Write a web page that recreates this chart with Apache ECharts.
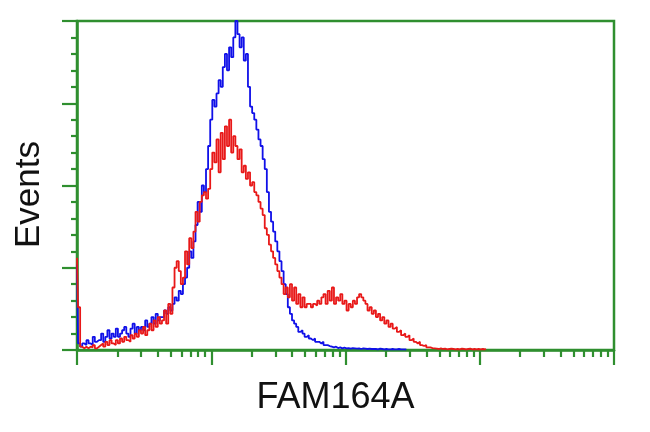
<!DOCTYPE html>
<html>
<head>
<meta charset="utf-8">
<script src="https://cdn.jsdelivr.net/npm/echarts@6/dist/echarts.min.js"></script>
<style>html,body{margin:0;padding:0;background:#fff}#c{width:650px;height:432px}</style>
</head>
<body>
<div id="c"></div>
<script>
// Channel positions on a 4-decade log scale (256 channels, 64 per decade)
const xLabel = 'FAM164A';
const yLabel = 'Events';
const blueValues = [
  26,2,1,2,1.5,3,2,1.5,4,2.5,3,
  3,5,2.5,4,6,3.5,5,4,6.5,4,
  5,6,7,5,4,6.5,8,5,7,6,
  7,6,9,7,8,10,8,11,9,10,
  10,12,11,13,12,14,16,15,18,17,20,
  22,25,30,28,33,
  38,45,42,50,48,
  55,62,70,76,74,78,82,80,86,90,85,92,89,95,100,96,92,95,88,90,80,74,72,70,67,64,62,58,
  55,48,42,39,36,33,30,27,24,20,17,13,11,9,8,7,5.5,6,5,4,4.5,3.5,3,3.5,2.5,2.5,2,2.5,1.5,1.5,1.2,1,
  0.8,1,0.6,0.8,0.5,0.7,0.5,0.6,0.4,0.6,0.5,0.4,0.5,0.3,0.5,0.4,0.3,0.4,0.3,0.3,
  0.3,0.2,0.4,0.3,0.2,0.3,0.2,0.2,0.3,0.2,
  0.2,0.3,0.2,0.2,0.2,0.1
];
const redValues = [
  28,13,1,0.5,1,0.5,1,0.8,1.5,0.5,1,
  1.5,2,1,2.5,1.5,3,2,1.5,3,2,
  3.5,2.5,4,3,2.5,4.5,3.5,5,4,6,
  5,7,4.5,6,8,6,9,7,10,8,
  9,12,8,14,11,19,25,27,24,20,
  22,30,26,34,31,
  36,42,39,45,47,
  48,46,49,55,60,57,64,54,66,58,68,62,70,60,65,62,58,61,54,56,52,54,50,51,48,47,
  45,43,41,37,35,32,30,28,26,24,22,20,17,19,16,20,15,19,14,17,13,16,13,14,
  14,13,14,13.5,15,14,16,17,14,18,15,19,14,16,15,17,14,15,12,14,13,15,14,16,17,16,15,14,12,13,11,12,10,11,9,10,8,9,7,8,6.5,7,5.5,6,4.5,5,4,4.5,3,3.5,2.5,2,2.5,1.5,1.2,1.5,0.8,0.8,0.6,0.5,
  0.4,0.3,0.5,0.3,0.4,0.2,0.3,0.4,0.3,0.2,0.3,0.2,0.4,0.3,0.2,0.3,0.4,0.2,0.3,0.2,0.3,0.2,0.3,0.2,0.3
];
const decadeMajors = [0, 64, 128, 192, 256];
const minorMultipliers = [2, 3, 4, 5, 6, 7, 8, 9];

const minorTicks = [];
for (let d = 0; d < 4; d++) {
  minorMultipliers.forEach(k => minorTicks.push(d * 64 + 64 * Math.log10(k)));
}
const toPairs = arr => arr.map((v, i) => [i, v]);

const green = '#2f8f2f';
const chart = echarts.init(document.getElementById('c'), null, {renderer: 'canvas'});
chart.setOption({
  animation: false,
  backgroundColor: '#fff',
  grid: {left: 77, right: 36, top: 21, bottom: 82, show: true, borderColor: green, borderWidth: 2.5, backgroundColor: 'transparent'},
  xAxis: [{
    type: 'value', min: 0, max: 256,
    name: xLabel, nameLocation: 'middle', nameGap: 30,
    nameTextStyle: {fontFamily: 'Liberation Sans', fontSize: 36, color: '#111', padding: [0, 20, 0, 0]},
    axisLine: {show: true, lineStyle: {color: green, width: 2.5}},
    axisTick: {show: true, length: 15, customValues: decadeMajors, lineStyle: {color: green, width: 2.2}},
    axisLabel: {show: false},
    splitLine: {show: false}
  }, {
    type: 'value', min: 0, max: 256, position: 'bottom',
    axisLine: {show: false},
    axisTick: {show: true, length: 7, customValues: minorTicks, lineStyle: {color: green, width: 2.2}},
    axisLabel: {show: false},
    splitLine: {show: false}
  }],
  yAxis: {
    type: 'value', min: 0, max: 100, interval: 25,
    name: yLabel, nameLocation: 'middle', nameGap: 30, nameRotate: 90,
    nameTextStyle: {fontFamily: 'Liberation Sans', fontSize: 35, color: '#111', padding: [0, 18, 0, 0]},
    axisLine: {show: true, lineStyle: {color: green, width: 2.5}},
    axisTick: {show: true, length: 15, lineStyle: {color: green, width: 2.2}},
    minorTick: {show: true, splitNumber: 5, length: 6, lineStyle: {color: green, width: 2.2}},
    axisLabel: {show: false},
    splitLine: {show: false}
  },
  series: [{
    type: 'line', step: 'middle', data: toPairs(blueValues), showSymbol: false,
    lineStyle: {color: '#1010e8', width: 1.8}, z: 3
  }, {
    type: 'line', step: 'middle', data: toPairs(redValues), showSymbol: false,
    lineStyle: {color: '#e81818', width: 1.8}, z: 4
  }]
});
</script>
</body>
</html>
